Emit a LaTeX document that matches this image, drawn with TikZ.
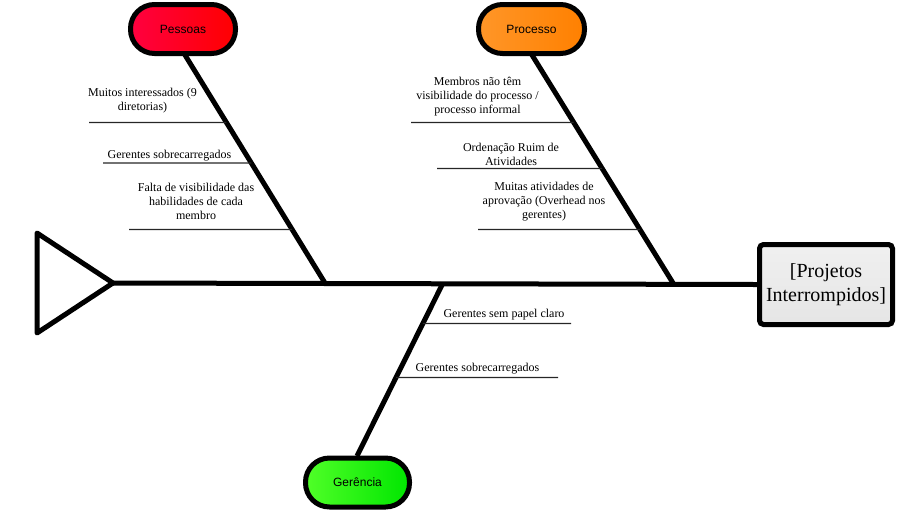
\documentclass[tikz,border=0pt]{standalone}
\usepackage{fontspec}
\setmainfont{Liberation Serif}
\newfontfamily\catfont{Liberation Sans}
\usetikzlibrary{calc}
\begin{document}
\begin{tikzpicture}[x=0.75pt,y=-0.75pt,
  bone/.style={line width=3.75pt,line cap=round,line join=round},
  rib/.style={line width=0.9pt,black!85},
  cat/.style={draw,line width=3.75pt,rounded corners=18pt,minimum height=36.75pt,inner sep=0pt,font=\catfont\fontsize{9}{11}\selectfont},
  lbl/.style={align=center,inner sep=0pt,font=\fontsize{9}{10.5}\selectfont}]
\useasboundingbox (0,0) rectangle (909,515);
% head / tail
\node[draw,line width=3.75pt,rounded corners=3pt,minimum width=99.75pt,minimum height=60pt,inner sep=0pt,
  top color=black!6,bottom color=black!10,align=center,font=\fontsize{15}{18}\selectfont] (effect) at (826,284.5) {[Projetos\\Interrompidos]};
\coordinate (t1) at (37,233);
\coordinate (t2) at (37,333);
\coordinate (tip) at (113,283);
\draw[bone] (t1) -- (tip) -- (t2) -- cycle;
\draw[bone,line cap=butt] (tip) -- (effect.west);
% categories
\node[cat,minimum width=78.75pt,left color={rgb,255:red,255;green,0;blue,64},right color={rgb,255:red,255;green,0;blue,0}] (pes) at (183,29) {Pessoas};
\node[cat,minimum width=79.5pt,left color={rgb,255:red,255;green,150;blue,40},right color={rgb,255:red,255;green,128;blue,0}] (pro) at (531.5,29) {Processo};
\node[cat,minimum width=78pt,left color={rgb,255:red,80;green,255;blue,40},right color={rgb,255:red,0;green,230;blue,0}] (ger) at (357.5,482.5) {Gerência};
% bones
\coordinate (pesTop) at (185,55);
\coordinate (pesBot) at (325,283);
\coordinate (proTop) at (532,55);
\coordinate (proBot) at (673,283);
\coordinate (gerTop) at (443,283);
\coordinate (gerBot) at (357,456);
\draw[bone,line cap=butt] (pesTop) -- (pesBot);
\draw[bone,line cap=butt] (proTop) -- (proBot);
\draw[bone,line cap=butt] (gerTop) -- (gerBot);
% Pessoas ribs
\coordinate (pa) at (89,122.5);
\coordinate (pb) at (103,163);
\coordinate (pc) at (129,229.5);
\draw[rib] (pa) -- ($(pesTop)!0.296!(pesBot)$);
\draw[rib] (pb) -- ($(pesTop)!0.474!(pesBot)$);
\draw[rib] (pc) -- ($(pesTop)!0.765!(pesBot)$);
\node[lbl] (pat) at (142.5,101) {Muitos interessados (9\\diretorias)};
\node[lbl] (pbt) at (169.5,155.5) {Gerentes sobrecarregados};
\node[lbl] (pct) at (196,201.5) {Falta de visibilidade das\\habilidades de cada\\membro};
% Processo ribs
\coordinate (ra) at (411,122.5);
\coordinate (rb) at (437,168.5);
\coordinate (rc) at (478,229.5);
\draw[rib] (ra) -- ($(proTop)!0.296!(proBot)$);
\draw[rib] (rb) -- ($(proTop)!0.498!(proBot)$);
\draw[rib] (rc) -- ($(proTop)!0.765!(proBot)$);
\node[lbl] (rat) at (477.5,96.5) {Membros não têm\\visibilidade do processo /\\processo informal};
\node[lbl] (rbt) at (511,154.5) {Ordenação Ruim de\\Atividades};
\node[lbl] (rct) at (544,201.5) {Muitas atividades de\\aprovação (Overhead nos\\gerentes)};
% Gerencia ribs
\coordinate (ga) at (571,323.5);
\coordinate (gb) at (558,377.5);
\draw[rib] ($(gerTop)!0.234!(gerBot)$) -- (ga);
\draw[rib] ($(gerTop)!0.546!(gerBot)$) -- (gb);
\node[lbl] (gat) at (504,315) {Gerentes sem papel claro};
\node[lbl] (gbt) at (477.5,369) {Gerentes sobrecarregados};
\end{tikzpicture}
\end{document}
